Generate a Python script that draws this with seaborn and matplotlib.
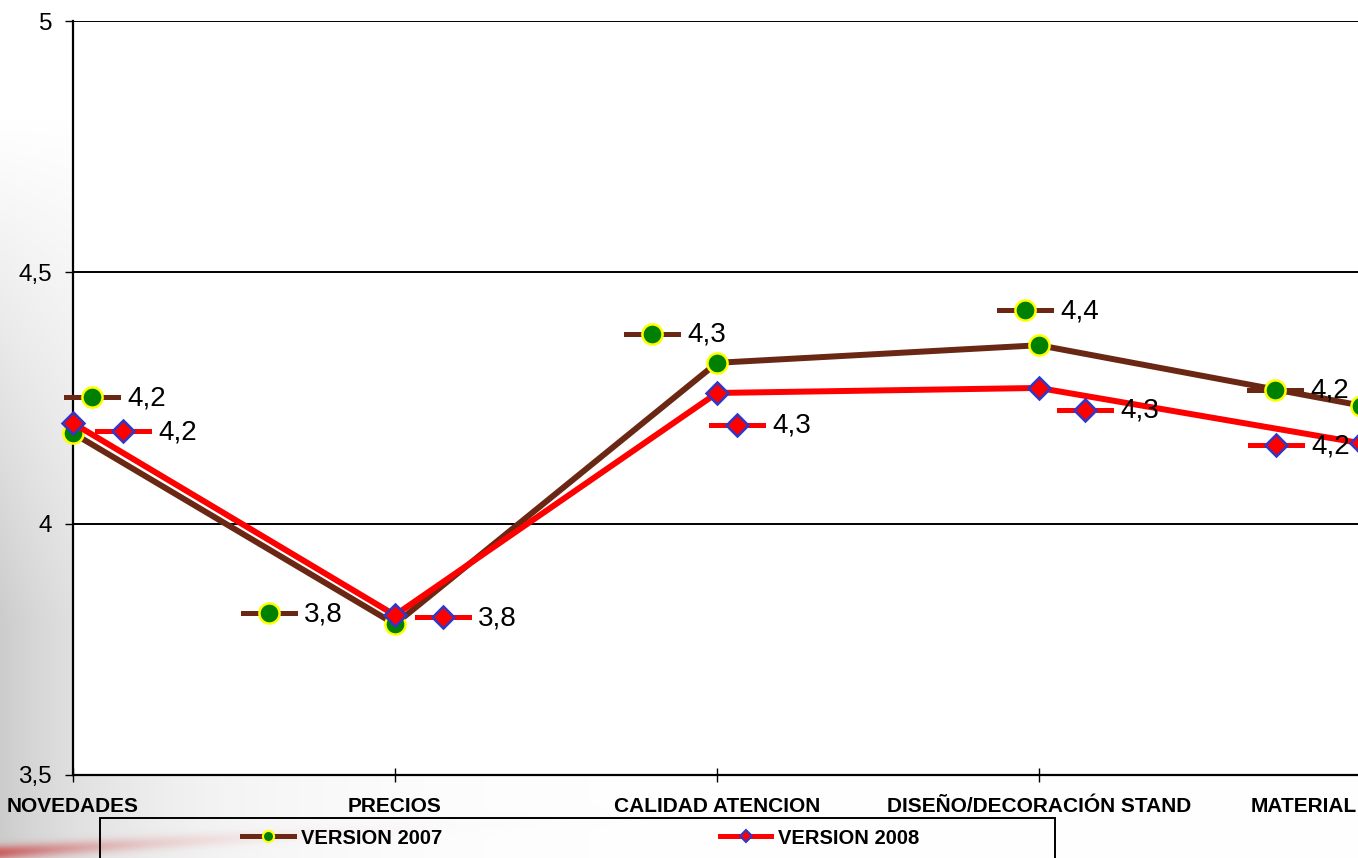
import numpy as np
import matplotlib
matplotlib.use('Agg')
import matplotlib.pyplot as plt
from matplotlib.lines import Line2D
from matplotlib.patches import Rectangle
import seaborn as sns

# datos
categorias = ['NOVEDADES', 'PRECIOS', 'CALIDAD ATENCION', 'DISEÑO/DECORACIÓN STAND', 'MATERIAL']
version_2007 = [4.18, 3.80, 4.32, 4.355, 4.235]
version_2008 = [4.20, 3.818, 4.26, 4.27, 4.16]
nombres = ['VERSION 2007', 'VERSION 2008']
yticks = [3.5, 4, 4.5, 5]

# desplazamiento (px) de cada etiqueta de datos respecto a su punto
off_2007 = [(19, -36), (-126, -11), (-65, -29), (-14, -35), (-86, -16)]
off_2008 = [(50, 8), (48, 2), (20, 32), (46, 22), (-85, 2)]

plt.rcParams['font.family'] = ['Liberation Sans', 'DejaVu Sans']

est_2007 = dict(color='#6A2814', marker='o', markerfacecolor='#008000', markeredgecolor='#FFFF00')
est_2008 = dict(color='#FF0000', marker='D', markerfacecolor='#FF0000', markeredgecolor='#3038C8')

W, H = 1358, 858
fig = plt.figure(figsize=(W / 100, H / 100), dpi=100)

# fondo de la diapositiva: degradado gris a la izquierda y franja roja abajo
xx = np.arange(W)[None, :].astype(float)
yy = np.arange(H)[:, None].astype(float)
gris = 1 - 0.2 * np.exp(-xx / 150) * np.clip((yy - 120) / 500, 0, 1)
fondo = np.dstack([gris, gris, gris])
franja = np.exp(-((yy - (852 - 0.06 * xx)) / 7) ** 2) * np.exp(-xx / 110)
rojo = np.array([0.80, 0.20, 0.20])
fondo = fondo * (1 - 0.7 * franja[..., None]) + rojo * 0.7 * franja[..., None]
bg = fig.add_axes([0, 0, 1, 1], zorder=-10)
bg.imshow(fondo, aspect='auto', extent=[0, 1, 0, 1])
bg.axis('off')

ax = fig.add_axes([73 / W, 1 - 775 / H, (1361 - 73) / W, (775 - 21) / H], facecolor='white')
pos = list(range(len(categorias)))

sns.lineplot(x=pos, y=version_2007, ax=ax, sort=False, lw=4.3, markersize=14.5,
             markeredgewidth=1.8, clip_on=False, zorder=3, **est_2007)
sns.lineplot(x=pos, y=version_2008, ax=ax, sort=False, lw=4.3, markersize=11,
             markeredgewidth=1.8, clip_on=False, zorder=4, **est_2008)

ax.set_xlim(0, len(categorias) - 1)
ax.set_ylim(3.5, 5)
ax.set_yticks(yticks)
ax.set_yticklabels([f'{t:g}'.replace('.', ',') for t in yticks], fontsize=17.5)
ax.set_xticks(pos)
# la ultima categoria queda al borde: se escribe aparte, alineada a la derecha
ax.set_xticklabels(categorias[:-1] + [''], fontsize=15, fontweight='bold')
ax.annotate(categorias[-1], xy=(pos[-1], 3.5), xytext=(-3, -15.8), textcoords='offset points',
            ha='right', va='top', fontsize=15, fontweight='bold', annotation_clip=False)
ax.tick_params(axis='x', direction='inout', length=9.5, width=1, pad=11)
ax.tick_params(axis='y', direction='out', length=6, width=1, pad=9)
ax.grid(axis='y', color='black', lw=1.4)
ax.grid(axis='x', visible=False)
for s in ['top', 'right']:
    ax.spines[s].set_visible(False)
for s in ['left', 'bottom']:
    ax.spines[s].set_linewidth(1.6)
    ax.spines[s].set_color('black')
ax.set_xlabel('')
ax.set_ylabel('')

# etiquetas de datos con clave de leyenda (estilo Excel)
inv = fig.transFigure.inverted()
for valores, offs, est, ms in [(version_2007, off_2007, est_2007, 14.5),
                               (version_2008, off_2008, est_2008, 11)]:
    for i, (v, (dx, dy)) in enumerate(zip(valores, offs)):
        px, py = ax.transData.transform((i, v))
        cx, cy = px + dx, py - dy
        (x0, y0), (x1, y1) = inv.transform([(cx - 26, cy), (cx + 26, cy)])
        fig.add_artist(Line2D([x0, x1], [y0, y1], color=est['color'], lw=3.6, zorder=5))
        mx, my = inv.transform((cx, cy))
        fig.add_artist(Line2D([mx], [my], ls='none', marker=est['marker'], markersize=ms,
                              markerfacecolor=est['markerfacecolor'],
                              markeredgecolor=est['markeredgecolor'], markeredgewidth=1.8, zorder=6))
        tx, ty = inv.transform((cx + 35, cy - 8))
        fig.text(tx, ty, f'{v:.1f}'.replace('.', ','), fontsize=20, va='baseline', ha='left', zorder=7)

# leyenda inferior
fig.add_artist(Rectangle((100 / W, -0.05), 955 / W, 0.05 + 1 - 818 / H, transform=fig.transFigure,
                         fill=False, edgecolor='black', lw=1.4, zorder=2))
handles = [Line2D([], [], lw=3.6, markersize=8, markeredgewidth=1.5, **est_2007),
           Line2D([], [], lw=3.6, markersize=6.5, markeredgewidth=1.5, **est_2008)]
fig.legend(handles, nombres, loc='center', bbox_to_anchor=(581 / W, 1 - 838 / H), ncol=2,
           frameon=False, handlelength=2.55, handletextpad=0.35, columnspacing=13.8,
           prop={'size': 14.5, 'weight': 'bold'}, borderpad=0, borderaxespad=0)

fig.savefig('out.png', dpi=100)
